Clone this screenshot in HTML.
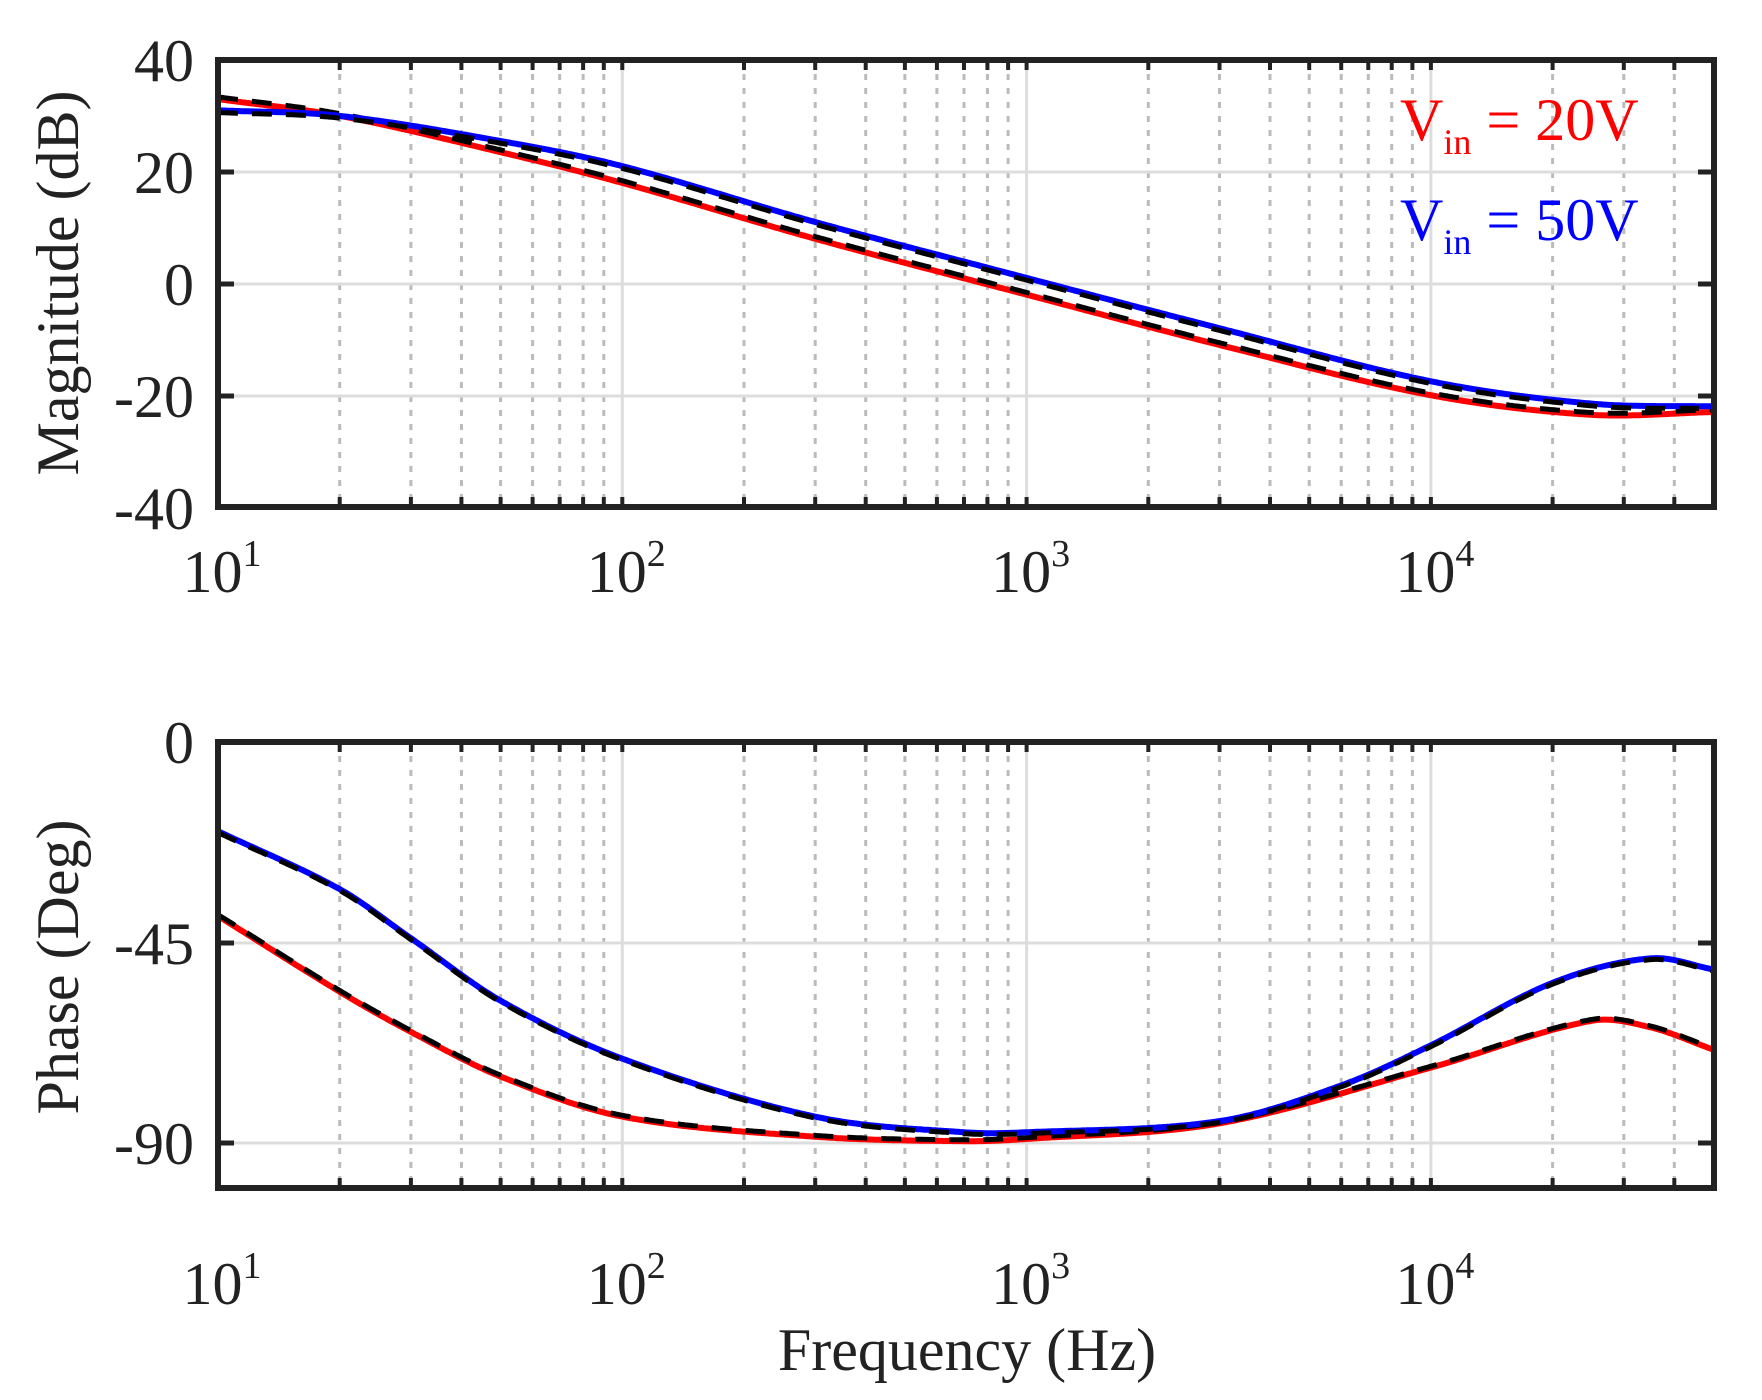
<!DOCTYPE html>
<html><head><meta charset="utf-8"><style>
html,body{margin:0;padding:0;background:#fff;}
svg{display:block;font-family:"Liberation Serif",serif;}
</style></head><body>
<svg id="s" width="1762" height="1400" viewBox="0 0 1762 1400" xmlns="http://www.w3.org/2000/svg">
<g id="grid"></g>
<g id="curves"></g>
<rect x="218" y="60" width="1496" height="447" fill="none" stroke="#222" stroke-width="6"/>
<rect x="218" y="742" width="1496" height="446" fill="none" stroke="#222" stroke-width="6"/>
<g font-size="60" fill="#222" text-anchor="end">
<text x="194" y="81">40</text><text x="194" y="193">20</text><text x="194" y="305">0</text><text x="194" y="417">-20</text><text x="194" y="529">-40</text>
<text x="194" y="763">0</text><text x="194" y="964">-45</text><text x="194" y="1164">-90</text>
</g>
<g font-size="60" fill="#222" text-anchor="middle" id="xt"></g>
<text font-size="60" fill="#222" text-anchor="middle" transform="translate(78,283) rotate(-90)">Magnitude (dB)</text>
<text font-size="60" fill="#222" text-anchor="middle" transform="translate(78,967) rotate(-90)">Phase (Deg)</text>
<text font-size="60" fill="#222" text-anchor="middle" x="967" y="1370">Frequency (Hz)</text>
<text font-size="60" fill="#f00" x="1400" y="140">V<tspan font-size="36" dy="14">in</tspan><tspan dy="-14"> = 20V</tspan></text>
<text font-size="60" fill="#00f" x="1400" y="240">V<tspan font-size="36" dy="14">in</tspan><tspan dy="-14"> = 50V</tspan></text>
</svg>
<script>
var NS="http://www.w3.org/2000/svg";
var X0=218,DEC=404.3,XR=1714;
function fx(f){return X0+(Math.log10(f)-1)*DEC;}
function el(t,a,p){var e=document.createElementNS(NS,t);for(var k in a)e.setAttribute(k,a[k]);p.appendChild(e);return e;}
var g=document.getElementById('grid');
var panels=[[60,507],[742,1188]];
panels.forEach(function(p){
 for(var d=1;d<=4;d++){for(var m=1;m<=9;m++){var f=m*Math.pow(10,d);var x=fx(f);if(x>XR-2)continue;
  if(m==1){if(d>1)el('line',{x1:x,x2:x,y1:p[0],y2:p[1],stroke:'#ddd','stroke-width':3},g);}
  else el('line',{x1:x,x2:x,y1:p[0],y2:p[1],stroke:'#bbb','stroke-width':3,'stroke-dasharray':'6 8'},g);
  el('line',{x1:x,x2:x,y1:p[0],y2:p[0]+10,stroke:'#222','stroke-width':4},g);
  el('line',{x1:x,x2:x,y1:p[1],y2:p[1]-10,stroke:'#222','stroke-width':4},g);
 }}
});
[172,284,396].forEach(function(y){el('line',{x1:X0,x2:XR,y1:y,y2:y,stroke:'#ddd','stroke-width':3},g);
 el('line',{x1:X0,x2:X0+16,y1:y,y2:y,stroke:'#222','stroke-width':5},g);el('line',{x1:XR-16,x2:XR,y1:y,y2:y,stroke:'#222','stroke-width':5},g);});
[943,1143].forEach(function(y){el('line',{x1:X0,x2:XR,y1:y,y2:y,stroke:'#ddd','stroke-width':3},g);
 el('line',{x1:X0,x2:X0+16,y1:y,y2:y,stroke:'#222','stroke-width':5},g);el('line',{x1:XR-16,x2:XR,y1:y,y2:y,stroke:'#222','stroke-width':5},g);});
var xt=document.getElementById('xt');
[592,1304].forEach(function(yb){for(var d=1;d<=4;d++){var t=el('text',{x:fx(Math.pow(10,d))+4,y:yb},xt);t.textContent='10';
 var s=el('tspan',{'font-size':38,dy:-26},t);s.textContent=d;}});
function interp(pts,l){for(var i=0;i<pts.length-1;i++){if(l<=pts[i+1][0]){var a=pts[i],b=pts[i+1];var t=(l-a[0])/(b[0]-a[0]);
 var p0=pts[Math.max(i-1,0)],p3=pts[Math.min(i+2,pts.length-1)];
 var m1=(b[1]-p0[1])/(b[0]-p0[0]),m2=(p3[1]-a[1])/(p3[0]-a[0]);var h=b[0]-a[0];
 var t2=t*t,t3=t2*t;return (2*t3-3*t2+1)*a[1]+(t3-2*t2+t)*h*m1+(-2*t3+3*t2)*b[1]+(t3-t2)*h*m2;}}return pts[pts.length-1][1];}
function L(a){return a.map(function(p){return [Math.log10(p[0]),p[1]];});}
var magR=L([[10,33],[20,30],[50,23.5],[100,18],[300,8],[1000,-2],[3000,-11],[10000,-20],[25000,-23.5],[50000,-23]]);
var magB=L([[10,31],[20,30],[50,25.5],[100,21],[300,11],[1000,1],[3000,-8],[10000,-17.5],[25000,-21.5],[50000,-22]]);
var phB=L([[10,-20],[20,-33],[30,-44],[50,-58],[100,-71],[300,-84],[700,-87.5],[1000,-87.5],[3000,-85],[6000,-77],[10000,-68],[20000,-54],[35000,-48.5],[50000,-51]]);
var phR=L([[10,-39],[20,-56],[30,-65],[50,-75],[100,-84],[300,-88.5],[700,-89.5],[1000,-89],[3000,-85.5],[10000,-73],[25000,-62.5],[35000,-64],[50000,-69]]);
function path(pts,yf){var d='';for(var l=1;l<=Math.log10(50000)+1e-9;l+=0.005){var x=X0+(l-1)*DEC;var y=yf(interp(pts,l));d+=(d?'L':'M')+x.toFixed(1)+' '+y.toFixed(1);}return d;}
var ym=function(v){return 60+(40-v)*447/80;},yp=function(v){return 742-v*446/100;};
var c=document.getElementById('curves');
[[magR,ym,'#f00',0.4],[magB,ym,'#00f',-0.4],[phR,yp,'#f00',0.3],[phB,yp,'#00f',-0.3]].forEach(function(s){
 el('path',{d:path(s[0],s[1]),fill:'none',stroke:s[2],'stroke-width':6},c);
 var q=s[0].map(function(p){return [p[0],p[1]+s[3]];});
 el('path',{d:path(q,s[1]),fill:'none',stroke:'#000','stroke-width':5,'stroke-dasharray':'20 14'},c);
});
</script>
</body></html>
